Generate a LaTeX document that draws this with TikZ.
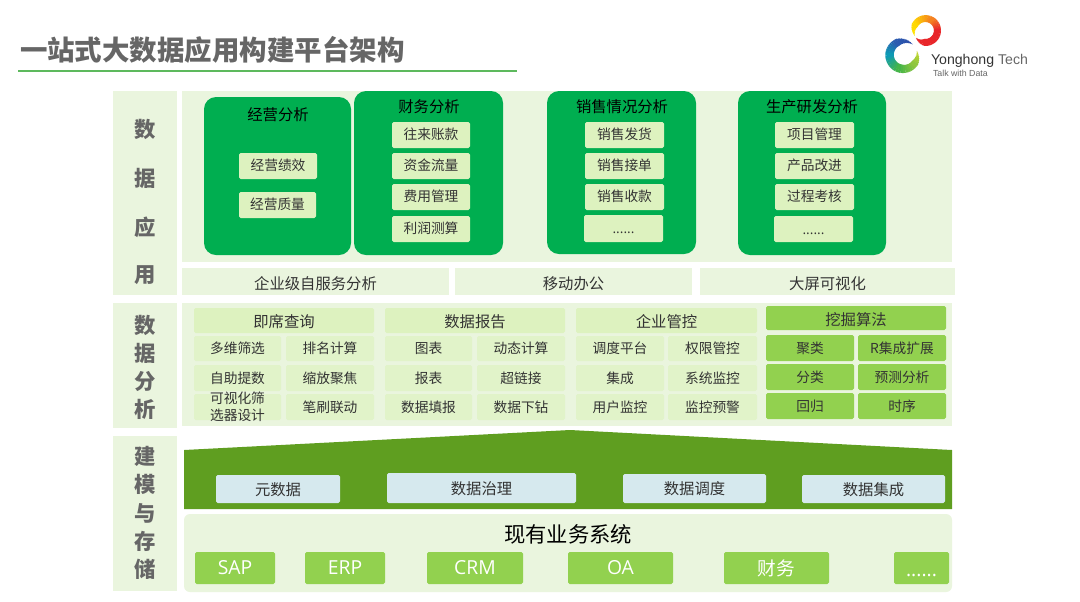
\documentclass[tikz,border=0pt]{standalone}
\usepackage{fontspec}
\setmainfont{Noto Sans CJK SC}
\newfontfamily\latinf{Open Sans}
\newfontfamily\logof{Liberation Sans}
\definecolor{panel}{HTML}{EAF5DE}
\definecolor{dkgreen}{HTML}{00AE50}
\definecolor{item}{HTML}{DDF2BF}
\definecolor{cell}{HTML}{E1F3C9}
\definecolor{lime}{HTML}{92D14F}
\definecolor{house}{HTML}{5F9E20}
\definecolor{bluebox}{HTML}{D6E9EE}
\definecolor{rule}{HTML}{5DB95D}
\definecolor{txt}{HTML}{333333}
\definecolor{graytxt}{HTML}{666666}
\definecolor{ry}{HTML}{FFE600}
\definecolor{ryb}{HTML}{FFD800}
\definecolor{ro}{HTML}{F58220}
\definecolor{rr}{HTML}{E8262A}
\definecolor{lb}{HTML}{2B4BA8}
\definecolor{lbb}{HTML}{2B5BB0}
\definecolor{lt}{HTML}{0E9AB5}
\definecolor{lg}{HTML}{45B549}
\definecolor{ll}{HTML}{8FC63E}
\definecolor{ly}{HTML}{C8D92E}
\tikzset{
  base/.style={inner sep=0pt,outer sep=0pt,align=center,text=txt},
  panelbox/.style={base,fill=panel},
  panelround/.style={base,fill=panel,rounded corners=4.5pt},
  bigbox/.style={base,fill=dkgreen,rounded corners=9pt},
  itembox/.style={base,fill=item,rounded corners=1.2pt,font=\fontsize{10.3}{12}\selectfont,text height=6.5pt,text depth=0pt},
  barbox/.style={base,fill=panel,font=\fontsize{11.5}{13}\selectfont,text height=12.5pt,text depth=0pt},
  headbox/.style={base,fill=item,rounded corners=1.2pt,font=\fontsize{11.5}{13}\selectfont,text height=10.5pt,text depth=0pt},
  cellbox/.style={base,fill=cell,rounded corners=1.2pt,font=\fontsize{10.3}{12.6}\selectfont},
  limehead/.style={base,fill=lime,rounded corners=1.2pt,font=\fontsize{11.5}{13}\selectfont,text height=10.5pt,text depth=0pt},
  limecell/.style={base,fill=lime,rounded corners=1.2pt,font=\fontsize{10.3}{12}\selectfont},
  blubox/.style={base,fill=bluebox,rounded corners=1.2pt,font=\fontsize{11.5}{13}\selectfont,text height=9.5pt,text depth=0pt},
  sysbox/.style={base,fill=lime,rounded corners=1.2pt,text=white,font=\latinf\fontsize{14.5}{16}\selectfont},
  bigtitle/.style={base,text=black,font=\fontsize{11.5}{13}\selectfont},
  sidechar/.style={base,text=graytxt,font=\bfseries\fontsize{16}{18}\selectfont},
}
\newcommand{\bx}[7][]{\node[#2,minimum width={(#5-#3)*0.75pt},minimum height={(#6-#4)*0.75pt},#1] (#7) at ({(#3+#5)/2},{(#4+#6)/2})}
\newcommand{\ringpart}[9]{%
  \foreach \i in {0,...,7}{%
    \pgfmathsetmacro\angA{#4+(#5-#4)*\i/8}%
    \pgfmathsetmacro\angB{#4+(#5-#4)*(\i+1.25)/8}%
    \pgfmathsetmacro\mixp{100*\i/7}%
    \pgfmathsetmacro\wid{(#8+(#9-#8)*\i/7)*0.75}%
    \draw[color={#7!\mixp!#6},line width=\wid pt] ({#1+#3*cos(\angA)},{#2-#3*sin(\angA)}) -- ({#1+#3*cos(\angB)},{#2-#3*sin(\angB)});
  }%
}
\begin{document}
\begin{tikzpicture}[x=0.75pt,y=-0.75pt]
\useasboundingbox (0,0) rectangle (1080,601);
\fill[white] (0,0) rectangle (1080,601);

% title
\node[base,anchor=west,text=graytxt,font=\bfseries\fontsize{20.6}{24}\selectfont] (title) at (20,50) {一站式大数据应用构建平台架构};
\coordinate (ruleL) at (18,71);
\coordinate (ruleR) at (517,71);
\draw[rule,line width=1.1pt] (ruleL) -- (ruleR);

% logo
\ringpart{925.5}{30.5}{12}{205}{150}{ry}{ryb}{0.5}{6.5}
\ringpart{925.5}{30.5}{12}{150}{60}{ryb}{ro}{6.5}{7}
\ringpart{925.5}{30.5}{12}{60}{0}{ro}{rr}{7}{7}
\ringpart{925.5}{30.5}{12}{0}{-90}{rr}{rr}{7}{7}
\ringpart{925.5}{30.5}{12}{-90}{-140}{rr}{rr}{7}{0.5}
\ringpart{903.5}{55}{14}{50}{120}{lb}{lbb}{0.5}{7.5}
\ringpart{903.5}{55}{14}{120}{180}{lbb}{lt}{7.5}{8.5}
\ringpart{903.5}{55}{14}{180}{250}{lt}{lg}{8.5}{8.5}
\ringpart{903.5}{55}{14}{250}{320}{lg}{ll}{8.5}{7}
\ringpart{903.5}{55}{14}{320}{375}{ll}{ly}{7}{0.5}
\node[base,anchor=west,text=graytxt,font=\logof\fontsize{10.6}{12}\selectfont] (logo) at (931,61) {\textcolor{txt}{Yonghong} Tech};
\node[base,anchor=west,text=graytxt,font=\logof\fontsize{6.6}{8}\selectfont] (slogan) at (933,73) {Talk with Data};

% side panels
\bx{panelbox}{113}{91}{177}{295}{sideA} {};
\bx{panelbox}{113}{303}{177}{428}{sideB} {};
\bx{panelbox}{113}{436}{177}{591}{sideC} {};
\foreach \t/\y/\n in {数/129/a1,据/178/a2,应/227/a3,用/275/a4,数/325/b1,据/353/b2,分/381/b3,析/409/b4,建/456/c1,模/484/c2,与/513/c3,存/541/c4,储/569/c5}
  \node[sidechar] (s\n) at (145,\y) {\t};

% application panel
\bx{panelbox}{182}{91}{952}{262}{appPanel} {};
\bx{bigbox}{204}{97}{351}{255}{jy} {};
\bx{bigbox}{354}{91}{503}{255}{cw} {};
\bx{bigbox}{547}{91}{696}{254}{xs} {};
\bx{bigbox}{738}{91}{886}{255}{sc} {};
\node[bigtitle] (jyT) at (278,115) {经营分析};
\node[bigtitle] (cwT) at (429,107) {财务分析};
\node[bigtitle] (xsT) at (622,107) {销售情况分析};
\node[bigtitle] (scT) at (812,107) {生产研发分析};
\bx{itembox}{239}{153}{317}{179}{jy1} {经营绩效};
\bx{itembox}{239}{192}{316}{218}{jy2} {经营质量};
\bx{itembox}{392}{122}{470}{148}{cw1} {往来账款};
\bx{itembox}{392}{153}{470}{179}{cw2} {资金流量};
\bx{itembox}{392}{184}{470}{210}{cw3} {费用管理};
\bx{itembox}{392}{216}{470}{242}{cw4} {利润测算};
\bx{itembox}{585}{122}{664}{148}{xs1} {销售发货};
\bx{itembox}{585}{153}{664}{179}{xs2} {销售接单};
\bx{itembox}{585}{184}{664}{210}{xs3} {销售收款};
\bx[font=\latinf\fontsize{10.3}{12}\selectfont,text height=8pt,text depth=0pt]{itembox}{584}{215}{663}{242}{xs4} {......};
\bx{itembox}{775}{122}{854}{148}{sc1} {项目管理};
\bx{itembox}{775}{153}{854}{179}{sc2} {产品改进};
\bx{itembox}{775}{184}{854}{210}{sc3} {过程考核};
\bx[font=\latinf\fontsize{10.3}{12}\selectfont,text height=8pt,text depth=0pt]{itembox}{774}{216}{853}{242}{sc4} {......};
\bx{barbox}{182}{268}{449}{295}{bar1} {企业级自服务分析};
\bx{barbox}{455}{268}{692}{295}{bar2} {移动办公};
\bx{barbox}{700}{268}{955}{295}{bar3} {大屏可视化};

% analysis panel
\bx{panelbox}{182}{303}{952}{426}{anaPanel} {};
\bx{headbox}{194}{308}{374}{333}{h1} {即席查询};
\bx{headbox}{385}{308}{565}{333}{h2} {数据报告};
\bx{headbox}{576}{308}{757}{333}{h3} {企业管控};
\bx{limehead}{766}{306}{946}{330}{h4} {挖掘算法};
\bx{cellbox}{194}{336}{281}{361}{c11} {多维筛选};
\bx{cellbox}{286}{336}{374}{361}{c12} {排名计算};
\bx{cellbox}{194}{365}{281}{391}{c21} {自助提数};
\bx{cellbox}{286}{365}{374}{391}{c22} {缩放聚焦};
\bx{cellbox}{194}{394}{281}{420}{c31} {};
\node[base,font=\fontsize{10.3}{12.6}\selectfont] (c31t) at (c31) {可视化筛\\选器设计};
\bx{cellbox}{286}{394}{374}{420}{c32} {笔刷联动};
\bx{cellbox}{385}{336}{472}{361}{c13} {图表};
\bx{cellbox}{477}{336}{565}{361}{c14} {动态计算};
\bx{cellbox}{385}{365}{472}{391}{c23} {报表};
\bx{cellbox}{477}{365}{565}{391}{c24} {超链接};
\bx{cellbox}{385}{394}{472}{420}{c33} {数据填报};
\bx{cellbox}{477}{394}{565}{420}{c34} {数据下钻};
\bx{cellbox}{576}{336}{664}{361}{c15} {调度平台};
\bx{cellbox}{668}{336}{757}{361}{c16} {权限管控};
\bx{cellbox}{576}{365}{664}{391}{c25} {集成};
\bx{cellbox}{668}{365}{757}{391}{c26} {系统监控};
\bx{cellbox}{576}{394}{664}{420}{c35} {用户监控};
\bx{cellbox}{668}{394}{757}{420}{c36} {监控预警};
\bx{limecell}{766}{335}{854}{361}{c17} {聚类};
\bx{limecell}{858}{335}{946}{361}{c18} {R集成扩展};
\bx{limecell}{766}{364}{854}{390}{c27} {分类};
\bx{limecell}{858}{364}{946}{390}{c28} {预测分析};
\bx{limecell}{766}{393}{854}{419}{c37} {回归};
\bx{limecell}{858}{393}{946}{419}{c38} {时序};

% modelling layer
\fill[house] (184,450) -- (570,430) -- (952,450) -- (952,509) -- (184,509) -- cycle;
\bx{blubox}{216}{475}{340}{503}{m1} {元数据};
\bx{blubox}{387}{473}{576}{503}{m2} {数据治理};
\bx{blubox}{623}{474}{766}{503}{m3} {数据调度};
\bx{blubox}{802}{475}{945}{503}{m4} {数据集成};

% systems
\bx{panelround}{184}{514}{952}{592}{sysPanel} {};
\node[base,text=black,font=\fontsize{16}{18}\selectfont] (sysT) at (568,534) {现有业务系统};
\bx{sysbox}{195}{552}{275}{584}{s1} {SAP};
\bx{sysbox}{305}{552}{385}{584}{s2} {ERP};
\bx{sysbox}{427}{552}{523}{584}{s3} {CRM};
\bx{sysbox}{568}{552}{673}{584}{s4} {OA};
\bx[font=\fontsize{14}{16}\selectfont]{sysbox}{724}{552}{829}{584}{s5} {财务};
\bx[text height=12pt,text depth=0pt]{sysbox}{894}{552}{949}{584}{s6} {......};
\end{tikzpicture}
\end{document}
